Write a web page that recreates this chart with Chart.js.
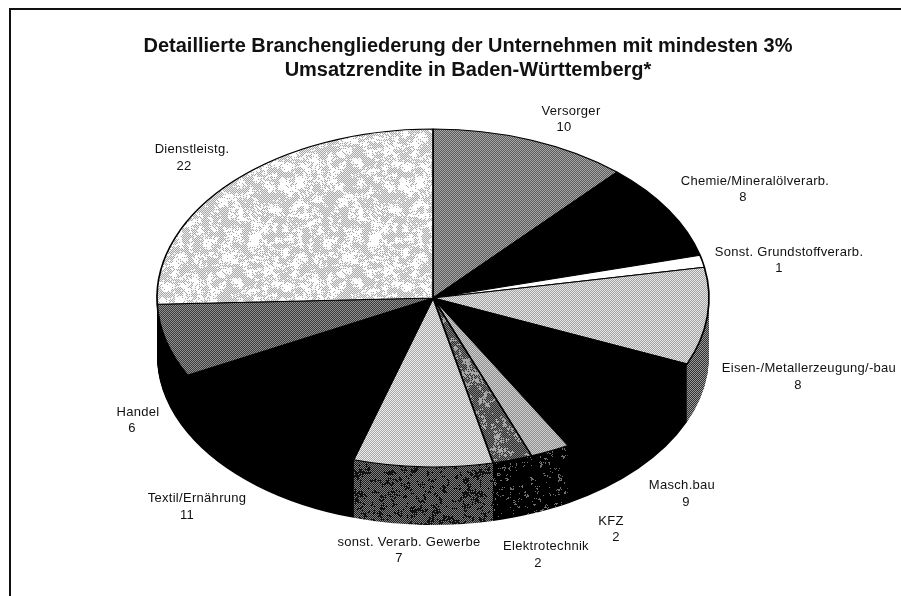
<!DOCTYPE html>
<html>
<head>
<meta charset="utf-8">
<style>
html,body{margin:0;padding:0;background:#fff;width:901px;height:596px;overflow:hidden}
#wrap{position:absolute;left:0;top:0;width:901px;height:596px}
#frameTop{position:absolute;left:9px;top:8px;width:892px;height:2px;background:#111}
#frameLeft{position:absolute;left:9px;top:8px;width:2px;height:588px;background:#111}
canvas{position:absolute;left:0;top:0}
</style>
<script src="https://cdn.jsdelivr.net/npm/chart.js@4/dist/chart.umd.min.js"></script>
</head>
<body>
<div id="wrap">
<div id="frameTop"></div><div id="frameLeft"></div>
<canvas id="c" width="901" height="596"></canvas>
</div>
<script>
const titleLines = ["Detaillierte Branchengliederung der Unternehmen mit mindesten 3%", "Umsatzrendite in Baden-Württemberg*"];
const categories = ["Versorger","Chemie/Mineralölverarb.","Sonst. Grundstoffverarb.","Eisen-/Metallerzeugung/-bau","Masch.bau","KFZ","Elektrotechnik","sonst. Verarb. Gewerbe","Textil/Ernährung","Handel","Dienstleistg."];
const values = [10,8,1,8,9,2,2,7,11,6,22];

// label anchors (name x,y then number x,y), separate from the data
const labelAnchors = [[571,111,564,127],[755,181,743,197],[789,252,779,268],[809,368,798,385],[682,485,686,502],[611,521,616,537],[546,546,538,563],[409,542,399,558],[197,498,187,515],[138,412,132,428],[192,149,184,166]];

// Fixed-sequence stipple textures imitating the scanned halftone
function stipple(a, b, blotch, threshold, cell) {
  const size = 120, t = document.createElement('canvas');
  t.width = t.height = size;
  const g = t.getContext('2d');
  let seed = 12345;
  const next = () => (seed = (seed * 1103515245 + 12345) & 0x7fffffff) / 0x7fffffff;
  const n = Math.round(size / cell);
  const grid = [];
  for (let i = 0; i < n * n; i++) grid.push(next());
  const at = (ix, iy) => grid[((iy + n) % n) * n + ((ix + n) % n)];
  for (let y = 0; y < size; y++) for (let x = 0; x < size; x++) {
    const fx = x / cell, fy = y / cell, ix = Math.floor(fx), iy = Math.floor(fy), u = fx - ix, v = fy - iy;
    const smooth = at(ix, iy) * (1 - u) * (1 - v) + at(ix + 1, iy) * u * (1 - v) + at(ix, iy + 1) * (1 - u) * v + at(ix + 1, iy + 1) * u * v;
    const grain = next();
    const inBlotch = blotch && (smooth + 0.6 * grain) > threshold;
    g.fillStyle = inBlotch ? blotch : ((x + y) % 2 ? a : b);
    g.fillRect(x, y, 1, 1);
  }
  return t;
}
const ctx0 = document.getElementById('c').getContext('2d');
ctx0.letterSpacing = '0.5px';
const pat = (...args) => ctx0.createPattern(stipple(...args), 'repeat');
const P = {
  versorger: pat('#5a5a5a', '#a8a8a8', null, 2, 4),
  eisen: pat('#a2a2a2', '#e6e6e6', null, 2, 4),
  kfz: pat('#8e8e8e', '#d0d0d0', null, 2, 4),
  elektro: pat('#2a2a2a', '#808080', '#a8a8a8', 1.0, 4),
  verarb: pat('#a8a8a8', '#ececec', null, 2, 4),
  handel: pat('#3c3c3c', '#909090', null, 2, 4),
  dienst: pat('#a8a8a8', '#ececec', '#ffffff', 0.88, 5),
  eisenSide: pat('#303030', '#9a9a9a', null, 2, 4),
  verarbSide: pat('#1c1c1c', '#808080', '#101010', 1.05, 4),
  specks: pat('#000000', '#000000', '#707070', 1.2, 3)
};
const topFill = [P.versorger,'#000000','#ffffff',P.eisen,'#000000',P.kfz,P.elektro,P.verarb,'#000000',P.handel,P.dienst];
const sideFill = [P.versorger,'#000000','#000000',P.eisenSide,'#000000',P.specks,P.specks,P.verarbSide,'#000000','#000000','#000000'];

const pieCenterX = 433, pieCenterY = 298, pieRx = 276, pieRy = 169, pieDepth = 58;

function alignPatterns(ctx) {
  const inv = ctx.getTransform().inverse();
  Object.values(P).forEach(p => p.setTransform(inv));
}
const pie3d = {
  id: 'pie3d',
  beforeDatasetsDraw(chart) {
    const ctx = chart.ctx, arcs = chart.getDatasetMeta(0).data;
    const { x: cx, y: cy, outerRadius: r } = arcs[0];
    const s = pieRx / r, k = pieRy / pieRx;
    ctx.save();
    ctx.imageSmoothingEnabled = false;
    const place = d => {
      ctx.setTransform(1, 0, 0, 1, 0, 0);
      ctx.translate(pieCenterX, pieCenterY + d);
      ctx.scale(s, s * k);
      ctx.translate(-cx, -cy);
      alignPatterns(ctx);
    };
    for (let d = pieDepth; d >= 1; d--) {
      place(d);
      arcs.forEach((el, i) => {
        const orig = el.options;
        el.options = Object.assign(Object.create(orig), { backgroundColor: sideFill[i], borderColor: 'rgba(0,0,0,0)', borderWidth: 0 });
        el.draw(ctx);
        el.options = orig;
      });
    }
    place(0);
    arcs.forEach(el => el.draw(ctx));
    ctx.restore();

    ctx.save();
    ctx.fillStyle = '#111';
    ctx.font = '13px "Liberation Sans", Arial, sans-serif';
    ctx.textAlign = 'center';
    ctx.textBaseline = 'middle';
    ctx.letterSpacing = '0.3px';
    categories.forEach((name, i) => {
      const a = labelAnchors[i];
      ctx.fillText(name, a[0], a[1]);
      ctx.fillText(String(values[i]), a[2], a[3]);
    });
    ctx.restore();
    return false;
  }
};

new Chart(document.getElementById('c'), {
  type: 'pie',
  plugins: [pie3d],
  data: {
    labels: categories,
    datasets: [{ data: values, backgroundColor: topFill, borderColor: '#000000', borderWidth: 1.6, borderAlign: 'center' }]
  },
  options: {
    responsive: false,
    animation: false,
    events: [],
    layout: { padding: { left: 35, right: 0, top: 0, bottom: 0 } },
    plugins: {
      legend: { display: false },
      tooltip: { enabled: false },
      title: {
        display: true,
        text: titleLines,
        color: '#111',
        align: 'center',
        font: { family: '"Liberation Sans", Arial, sans-serif', size: 20, weight: 'bold', lineHeight: 1.2 },
        padding: { top: 34, bottom: 0 }
      }
    }
  }
});
</script>
</body>
</html>
